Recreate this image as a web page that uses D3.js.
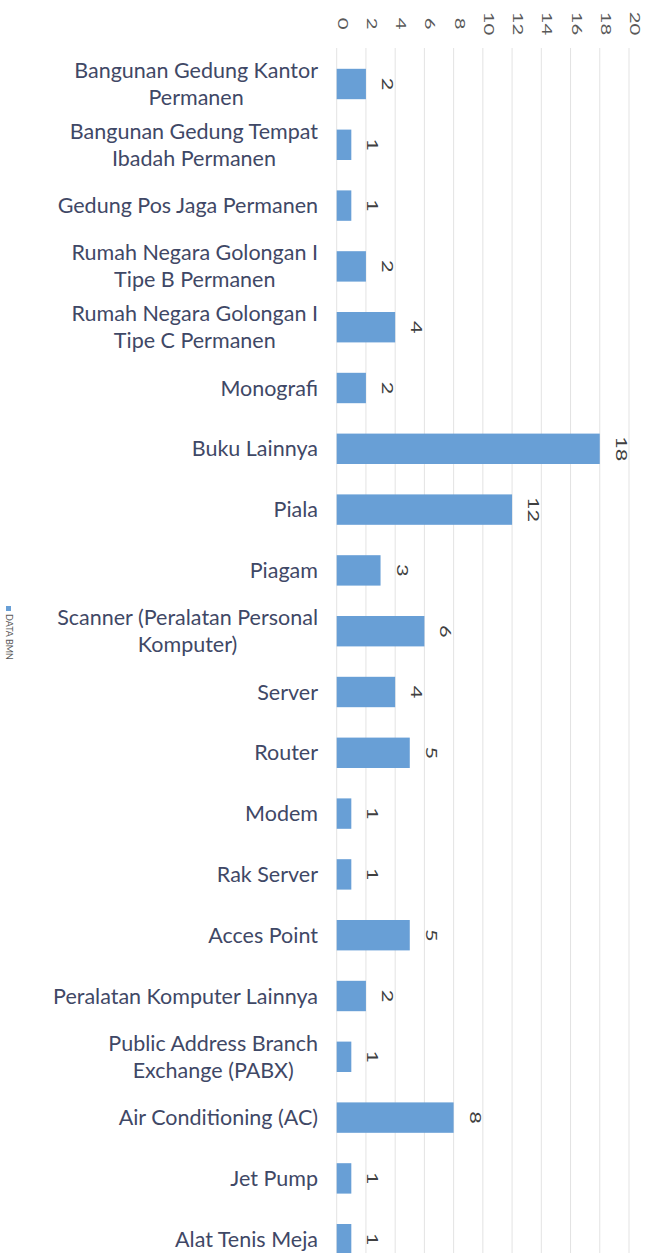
<!DOCTYPE html>
<html>
<head>
<meta charset="utf-8">
<script src="https://cdn.jsdelivr.net/npm/d3@7"></script>
<style>
  html, body { margin: 0; padding: 0; background: #fff; }
  svg { display: block; }
</style>
</head>
<body>
<div id="chart"></div>
<script>
// categories top to bottom, "\n" marks where the label wraps
const categories = [
    "Bangunan Gedung Kantor\nPermanen",
    "Bangunan Gedung Tempat\nIbadah Permanen",
    "Gedung Pos Jaga Permanen",
    "Rumah Negara Golongan I\nTipe B Permanen",
    "Rumah Negara Golongan I\nTipe C Permanen",
    "Monografi",
    "Buku Lainnya",
    "Piala",
    "Piagam",
    "Scanner (Peralatan Personal\nKomputer)",
    "Server",
    "Router",
    "Modem",
    "Rak Server",
    "Acces Point",
    "Peralatan Komputer Lainnya",
    "Public Address Branch\nExchange (PABX)",
    "Air Conditioning (AC)",
    "Jet Pump",
    "Alat Tenis Meja"
];
const values = [2, 1, 1, 2, 4, 2, 18, 12, 3, 6, 4, 5, 1, 1, 5, 2, 1, 8, 1, 1];
const tickValues = [0, 2, 4, 6, 8, 10, 12, 14, 16, 18, 20];
const seriesName = "DATA BMN";

const width = 651;
const height = 1253;
const color = '#689fd6';

const svg = d3.select('#chart')
    .append('svg')
    .attr('width', width)
    .attr('height', height)
    .attr('viewBox', `0 0 ${width} ${height}`)
    .style('font-family', 'Lato, "Open Sans", sans-serif');

const x = d3.scaleLinear()
    .domain([0, 20])
    .range([336.7, 629]);

const y = d3.scaleBand()
    .domain(d3.range(categories.length))
    .range([53.6, 1269.6])
    .paddingInner(0.5)
    .paddingOuter(0.25);

// vertical grid lines
svg.append('g')
    .selectAll('line')
    .data(tickValues)
    .join('line')
    .attr('x1', d => x(d))
    .attr('x2', d => x(d))
    .attr('y1', 48)
    .attr('y2', height)
    .attr('stroke', '#e3e3e3')
    .attr('stroke-width', 1);

// top axis, labels turned a quarter clockwise (and drawn long, like the scan)
svg.append('g')
    .attr('transform', 'translate(0,53.6)')
    .call(d3.axisTop(x).tickValues(tickValues).tickSize(0))
    .call(g => g.select('.domain').remove())
    .call(g => g.selectAll('text')
        .attr('x', 0)
        .attr('y', 0)
        .attr('dy', null)
        .attr('text-anchor', 'middle')
        .attr('transform', 'translate(0.5,-30) rotate(90) scale(1.45,1)')
        .attr('fill', '#595959')
        .style('font-size', '14px')
        .style('font-family', 'Lato, "Open Sans", sans-serif'));

// bars
svg.append('g')
    .attr('fill', color)
    .selectAll('rect')
    .data(values)
    .join('rect')
    .attr('x', x(0))
    .attr('y', (d, i) => y(i))
    .attr('width', d => x(d) - x(0))
    .attr('height', y.bandwidth());

// value labels
svg.append('g')
    .selectAll('text')
    .data(values)
    .join('text')
    .attr('transform', (d, i) => `translate(${x(d) + 16},${y(i) + y.bandwidth() / 2}) rotate(90) scale(1.45,1)`)
    .attr('text-anchor', 'middle')
    .attr('fill', '#404040')
    .style('font-size', '15px')
    .text(d => d);

// category labels: block sits right against the axis, wrapped lines centred in it
const lineGap = 27;
const labelRight = 318;
svg.append('g')
    .selectAll('text')
    .data(categories)
    .join('text')
    .attr('text-anchor', 'middle')
    .attr('fill', '#3f4866')
    .style('font-size', '21.5px')
    .each(function (d, i) {
        const lines = d.split('\n');
        const cy = y(i) + y.bandwidth() / 2;
        const top = cy - (lines.length - 1) * lineGap / 2;
        const spans = d3.select(this).selectAll('tspan')
            .data(lines)
            .join('tspan')
            .attr('y', (l, k) => top + k * lineGap)
            .attr('dy', '0.35em')
            .text(l => l);
        const widest = d3.max(spans.nodes(), n => n.getComputedTextLength());
        spans.attr('x', labelRight - widest / 2);
    });

// legend, turned a quarter clockwise
const legend = svg.append('g');
legend.append('rect')
    .attr('x', 6)
    .attr('y', 606)
    .attr('width', 5)
    .attr('height', 5)
    .attr('fill', color);
legend.append('text')
    .attr('transform', 'translate(6,614) rotate(90)')
    .attr('fill', '#595959')
    .style('font-size', '9px')
    .text(seriesName);
</script>
</body>
</html>
